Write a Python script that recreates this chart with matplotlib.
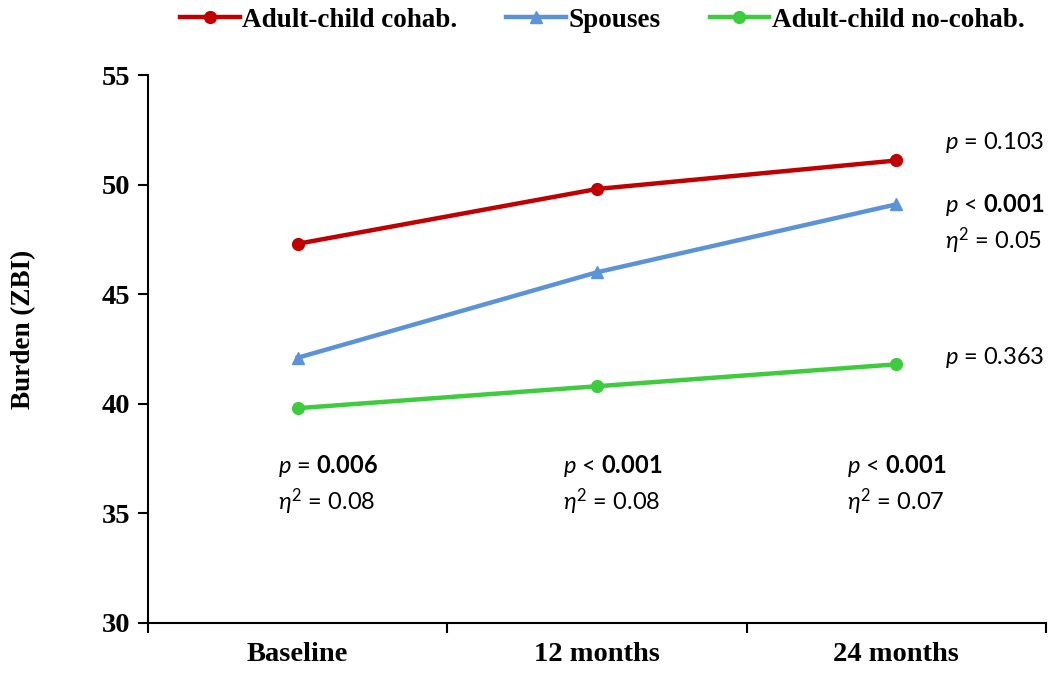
import matplotlib
matplotlib.use("Agg")
import matplotlib.pyplot as plt
from matplotlib.ticker import FixedLocator, NullFormatter

plt.rcParams['mathtext.fontset'] = 'custom'
plt.rcParams['mathtext.rm'] = 'Lato'
plt.rcParams['mathtext.it'] = 'Lato:italic'
plt.rcParams['mathtext.bf'] = 'Lato:bold'

timepoints = ['Baseline', '12 months', '24 months']
cohab = [47.3, 49.8, 51.1]
spouses = [42.1, 46.0, 49.1]
no_cohab = [39.8, 40.8, 41.8]

series_names = ['Adult-child cohab.', 'Spouses', 'Adult-child no-cohab.']
colors = ['#C00000', '#5B93D6', '#3ECC3E']
markers = ['o', '^', 'o']

# annotations at the right of each line
right_notes = [r'$\mathit{p}$ = 0.103',
               r'$\mathit{p}$ < $\mathbf{0.001}$',
               r'$\mathit{\eta}^{\mathit{2}}$ = 0.05',
               r'$\mathit{p}$ = 0.363']
right_note_y = [51.9, 49.07, 47.45, 42.13]

# annotations below each time point
bottom_p = [r'$\mathit{p}$ = $\mathbf{0.006}$',
            r'$\mathit{p}$ < $\mathbf{0.001}$',
            r'$\mathit{p}$ < $\mathbf{0.001}$']
bottom_eta = [r'$\mathit{\eta}^{\mathit{2}}$ = 0.08',
              r'$\mathit{\eta}^{\mathit{2}}$ = 0.08',
              r'$\mathit{\eta}^{\mathit{2}}$ = 0.07']
bottom_x = [-0.064, 0.886, 1.836]

fig = plt.figure(figsize=(10.51, 6.74), dpi=100)
ax = fig.add_axes([0.1408, 0.0757, 0.8544, 0.813])

x = list(range(len(timepoints)))
for vals, name, c, m in zip([cohab, spouses, no_cohab], series_names, colors, markers):
    ax.plot(x, vals, color=c, lw=3.2, marker=m, markersize=8.5, label=name)

ax.set_xlim(-0.5, 2.5)
ax.set_ylim(30, 55)
ax.set_yticks([30, 35, 40, 45, 50, 55])
ax.set_xticks(x)
ax.set_xticklabels(timepoints)
ax.xaxis.set_minor_locator(FixedLocator([-0.5, 0.5, 1.5, 2.5]))
ax.xaxis.set_minor_formatter(NullFormatter())
ax.tick_params(axis='x', which='major', length=0, pad=14)
ax.tick_params(axis='x', which='minor', length=7, width=1.5, direction='out')
ax.tick_params(axis='y', length=7, width=1.5, direction='out', pad=6)
for lab in ax.get_xticklabels() + ax.get_yticklabels():
    lab.set_fontfamily('Liberation Serif')
    lab.set_fontweight('bold')
    lab.set_fontsize(20.5)

for s in ['top', 'right']:
    ax.spines[s].set_visible(False)
for s in ['left', 'bottom']:
    ax.spines[s].set_linewidth(1.5)

ax.set_ylabel('Burden (ZBI)', fontfamily='Liberation Serif', fontweight='bold',
              fontsize=19.5)
ax.yaxis.set_label_coords(-0.125, 0.535)

for txt, yy in zip(right_notes, right_note_y):
    ax.text(2.164, yy, txt, fontfamily='Lato', fontsize=17, ha='left', va='center')
for bx, tp, te in zip(bottom_x, bottom_p, bottom_eta):
    ax.text(bx, 37.16, tp, fontfamily='Lato', fontsize=17, ha='left', va='center')
    ax.text(bx, 35.55, te, fontfamily='Lato', fontsize=17, ha='left', va='center')

leg = ax.legend(loc='center', bbox_to_anchor=(0.506, 1.10), ncol=3, frameon=False,
                prop={'family': 'Liberation Serif', 'weight': 'bold', 'size': 19.5},
                handlelength=2.2, columnspacing=1.8, handletextpad=0.1)

fig.savefig('out.png', dpi=100)
